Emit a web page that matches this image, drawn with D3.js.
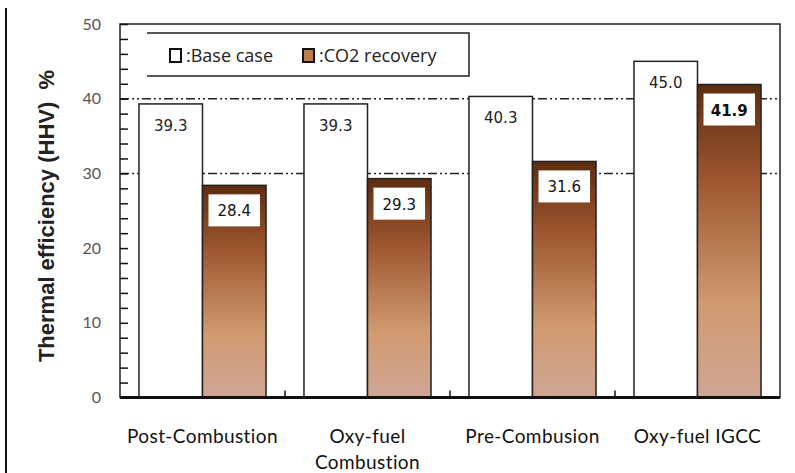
<!DOCTYPE html>
<html>
<head>
<meta charset="utf-8">
<script src="https://cdn.jsdelivr.net/npm/d3@7"></script>
<style>
  body { margin: 0; background: #fff; }
  svg { display: block; }
</style>
</head>
<body>
<div id="chart"></div>
<script>
// data
const categories = [['Post-Combustion'], ['Oxy-fuel', 'Combustion'], ['Pre-Combusion'], ['Oxy-fuel IGCC']];
const baseCase = [39.3, 39.3, 40.3, 45.0];
const co2Recovery = [28.4, 29.3, 31.6, 41.9];
const yTicks = [0, 10, 20, 30, 40, 50];
const gridValues = [30, 40];

const W = 795, H = 473;
const M = {left: 120, right: 15, top: 24, bottom: 75};

const svg = d3.select('#chart').append('svg')
  .attr('width', W).attr('height', H);

// gradient for CO2 bars
const grad = svg.append('defs').append('linearGradient')
  .attr('id', 'co2grad').attr('x1', 0).attr('y1', 0).attr('x2', 0).attr('y2', 1);
[[0, '#5e2c10'], [0.3, '#9c5630'], [0.7, '#d19a70'], [1, '#cfa694']].forEach(s => {
  grad.append('stop').attr('offset', s[0]).attr('stop-color', s[1]);
});

const x = d3.scaleBand()
  .domain(d3.range(categories.length))
  .range([M.left, W - M.right])
  .paddingInner(0.23).paddingOuter(0.115);

const y = d3.scaleLinear().domain([0, 50]).range([397.5, M.top]);

// outer left line
svg.append('line').attr('x1', 6).attr('x2', 6).attr('y1', 8).attr('y2', H)
  .attr('stroke', '#111').attr('stroke-width', 2);

// plot frame
svg.append('rect')
  .attr('x', M.left).attr('y', y(50))
  .attr('width', W - M.right - M.left).attr('height', y(0) - y(50))
  .attr('fill', 'none').attr('stroke', '#222').attr('stroke-width', 1.5);

// gridlines
svg.selectAll('.grid').data(gridValues).enter().append('line')
  .attr('x1', M.left).attr('x2', W - M.right)
  .attr('y1', d => y(d)).attr('y2', d => y(d))
  .attr('stroke', '#222').attr('stroke-width', 1.5)
  .attr('stroke-dasharray', '9,3,2,3,2,3');

// y axis with inward minor ticks
const yAxis = d3.axisRight(y).tickValues(d3.range(0, 51, 2)).tickSize(8).tickFormat('');
svg.append('g').attr('transform', `translate(${M.left},0)`).call(yAxis)
  .call(g => g.select('.domain').remove())
  .call(g => g.selectAll('line').attr('stroke', '#111').attr('stroke-width', 1.5));

svg.selectAll('.ylab').data(yTicks).enter().append('text')
  .attr('x', 101).attr('y', d => y(d))
  .attr('dy', '0.35em').attr('text-anchor', 'end')
  .attr('font-family', 'Lato, sans-serif').attr('font-size', 16)
  .attr('fill', '#555').text(d => d);

// category ticks on bottom axis
const bounds = d3.range(1, categories.length).map(i => M.left + i * (W - M.right - M.left) / categories.length);
svg.selectAll('.ctick').data(bounds).enter().append('line')
  .attr('x1', d => d).attr('x2', d => d)
  .attr('y1', y(0)).attr('y2', y(0) - 7)
  .attr('stroke', '#111').attr('stroke-width', 1.5);

const bw = x.bandwidth() / 2;

// base case bars
svg.selectAll('.base').data(baseCase).enter().append('rect')
  .attr('x', (d, i) => x(i)).attr('y', d => y(d))
  .attr('width', bw).attr('height', d => y(0) - y(d))
  .attr('fill', '#fff').attr('stroke', '#222').attr('stroke-width', 1.5);

// CO2 bars
svg.selectAll('.co2').data(co2Recovery).enter().append('rect')
  .attr('x', (d, i) => x(i) + bw).attr('y', d => y(d))
  .attr('width', bw).attr('height', d => y(0) - y(d))
  .attr('fill', 'url(#co2grad)').attr('stroke', '#222').attr('stroke-width', 1.5);

// bottom axis line
svg.append('line').attr('x1', M.left).attr('x2', W - M.right)
  .attr('y1', y(0)).attr('y2', y(0))
  .attr('stroke', '#111').attr('stroke-width', 3);

// value labels
svg.selectAll('.bl').data(baseCase).enter().append('text')
  .attr('x', (d, i) => x(i) + bw / 2).attr('y', d => y(d) + 27)
  .attr('text-anchor', 'middle')
  .attr('font-family', 'DejaVu Sans, sans-serif').attr('font-size', 15)
  .attr('fill', '#222').text(d => d.toFixed(1));

svg.selectAll('.cbox').data(co2Recovery).enter().append('rect')
  .attr('x', (d, i) => x(i) + bw + 6).attr('y', d => y(d) + 9)
  .attr('width', bw - 12).attr('height', 32)
  .attr('fill', '#fff');

svg.selectAll('.cl').data(co2Recovery).enter().append('text')
  .attr('x', (d, i) => x(i) + bw * 1.5).attr('y', d => y(d) + 31)
  .attr('text-anchor', 'middle')
  .attr('font-family', 'DejaVu Sans, sans-serif').attr('font-size', 15)
  .attr('font-weight', (d, i) => i === 3 ? 'bold' : 'normal')
  .attr('fill', '#111').text(d => d.toFixed(1));

// category labels
const cl = svg.selectAll('.cat').data(categories).enter().append('text')
  .attr('text-anchor', 'middle')
  .attr('font-family', 'Lato, sans-serif').attr('font-size', 19)
  .attr('letter-spacing', 0.4)
  .attr('fill', '#111');
cl.each(function(lines, i) {
  const t = d3.select(this);
  lines.forEach((s, j) => {
    t.append('tspan').attr('x', x(i) + x.bandwidth() / 2)
      .attr('y', 443 + j * 26).text(s);
  });
});

// y title
svg.append('text')
  .attr('transform', 'translate(54,216) rotate(-90)')
  .attr('text-anchor', 'middle')
  .attr('font-family', 'Liberation Sans, Arial, sans-serif').attr('font-size', 22)
  .attr('font-weight', 'bold').attr('fill', '#222')
  .attr('xml:space', 'preserve')
  .text('Thermal efficiency (HHV)  %');

// legend
svg.append('path')
  .attr('d', 'M147,33 H469 V76 H147')
  .attr('fill', 'none').attr('stroke', '#222').attr('stroke-width', 1.5);

const legend = [
  {label: ':Base case', fill: '#fff', x: 170},
  {label: ':CO2 recovery', fill: '#c07a50', x: 303}
];
legend.forEach(l => {
  svg.append('rect').attr('x', l.x).attr('y', 49).attr('width', 11).attr('height', 13)
    .attr('fill', l.fill).attr('stroke', '#111').attr('stroke-width', 2);
  svg.append('text').attr('x', l.x + 16).attr('y', 62)
    .attr('font-family', 'Open Sans, sans-serif').attr('font-size', 18)
    .attr('fill', '#222').text(l.label);
});
</script>
</body>
</html>
